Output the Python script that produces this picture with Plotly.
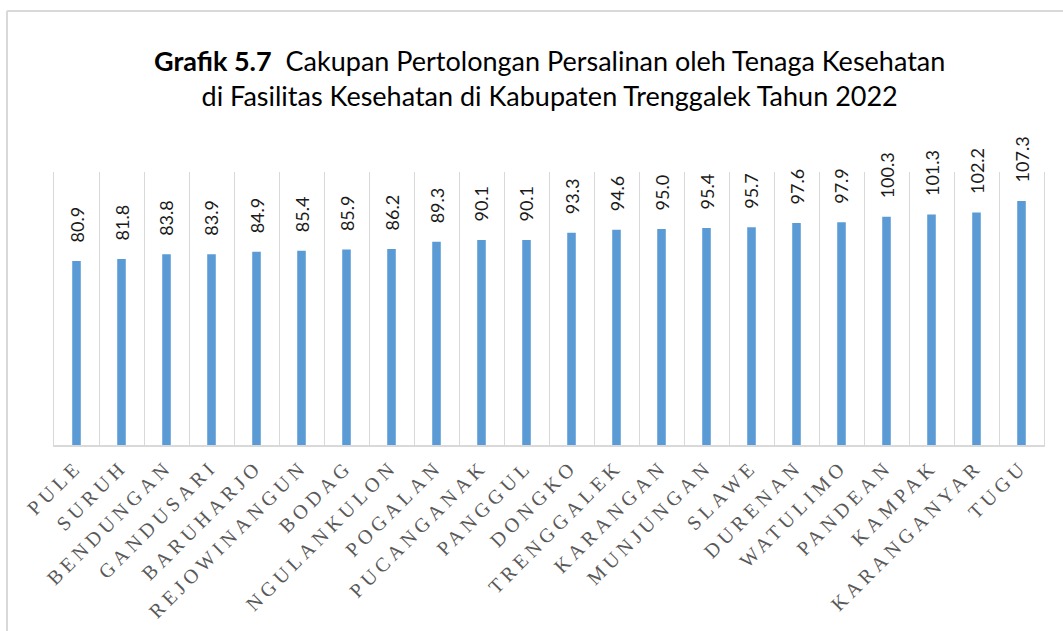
import plotly.graph_objects as go

categories = ["PULE", "SURUH", "BENDUNGAN", "GANDUSARI", "BARUHARJO", "REJOWINANGUN",
              "BODAG", "NGULANKULON", "POGALAN", "PUCANGANAK", "PANGGUL", "DONGKO",
              "TRENGGALEK", "KARANGAN", "MUNJUNGAN", "SLAWE", "DURENAN", "WATULIMO",
              "PANDEAN", "KAMPAK", "KARANGANYAR", "TUGU"]
values = [80.9, 81.8, 83.8, 83.9, 84.9, 85.4, 85.9, 86.2, 89.3, 90.1, 90.1, 93.3,
          94.6, 95.0, 95.4, 95.7, 97.6, 97.9, 100.3, 101.3, 102.2, 107.3]
title_bold = "Grafik 5.7"
title_rest = "Cakupan Pertolongan Persalinan oleh Tenaga Kesehatan"
title_line2 = "di Fasilitas Kesehatan di Kabupaten Trenggalek Tahun 2022"

W, H = 1063, 631
ml, mr, mt, mb = 54, 19, 172, 186
pw, ph = W - ml - mr, H - mt - mb

fig = go.Figure()
fig.add_trace(go.Bar(
    x=categories, y=values, width=0.19,
    marker=dict(color="#5B9BD5", line=dict(width=0)),
    hoverinfo="x+y",
))

for c, v in zip(categories, values):
    fig.add_annotation(
        x=c, y=v, text=f"{v:.1f}", showarrow=False, textangle=-90,
        xanchor="center", yanchor="bottom", yshift=16,
        font=dict(family="Lato, Calibri, sans-serif", size=18, color="#1a1a1a"),
    )

fig.add_annotation(
    xref="paper", yref="paper", x=0.5, y=(H - mb - 78) / ph,
    xanchor="center", yanchor="middle", showarrow=False, align="center",
    text=f"<b>{title_bold}</b>  {title_rest}<br>{title_line2}",
    font=dict(family="Lato, Calibri, sans-serif", size=27, color="#000000"),
)

# outer chart border (top and left edges visible)
x_left = (7 - ml) / pw
x_right = (W + 5 - ml) / pw
y_top = (H - mb - 11) / ph
fig.add_shape(type="line", xref="paper", yref="paper", x0=x_left, x1=x_right, y0=y_top, y1=y_top,
              line=dict(color="#d9d9d9", width=2))
fig.add_shape(type="line", xref="paper", yref="paper", x0=x_left, x1=x_left, y0=y_top, y1=-(mb + 10) / ph,
              line=dict(color="#d9d9d9", width=2))

fig.update_layout(
    width=W, height=H,
    margin=dict(l=ml, r=mr, t=mt, b=mb, autoexpand=False),
    paper_bgcolor="white", plot_bgcolor="white",
    showlegend=False,
    xaxis=dict(
        type="category", tickson="boundaries", showgrid=True, gridcolor="#d9d9d9", gridwidth=1,
        showline=True, linecolor="#d9d9d9", linewidth=2, ticks="", tickangle=-45,
        tickfont=dict(family="Liberation Serif, Times New Roman, serif", size=20, color="#595959"),
        range=[-0.5, len(categories) - 0.5], automargin=False,
    ),
    yaxis=dict(
        range=[0, 120], showgrid=False, showticklabels=False, zeroline=False,
        showline=True, mirror=True, linecolor="#d9d9d9", linewidth=1, ticks="",
    ),
)

post = """
document.body.style.margin = '0';
document.body.style.padding = '0';
var gd = document.getElementById('{plot_id}');
function ls(){ gd.querySelectorAll('.xtick text').forEach(function(t){ t.style.letterSpacing = '4.5px'; }); }
ls();
gd.on('plotly_afterplot', ls);
"""
fig.write_html("out.html", post_script=post, config={"displayModeBar": False})
